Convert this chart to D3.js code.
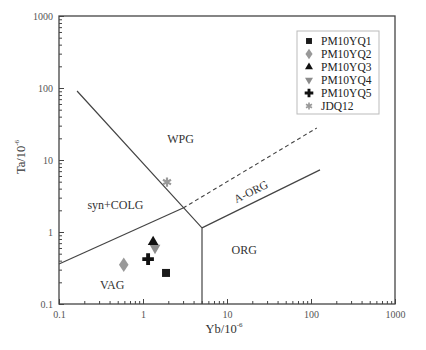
<!DOCTYPE html>
<html><head><meta charset="utf-8">
<script src="https://cdn.jsdelivr.net/npm/d3@7"></script>
<style>
html,body{margin:0;padding:0;background:#fff;}
svg{display:block;font-family:"Liberation Serif","DejaVu Serif",serif;}
</style></head>
<body>
<svg id="chart" width="426" height="350"></svg>
<script>
// ---- data ----
const sampleNames = ["PM10YQ1", "PM10YQ2", "PM10YQ3", "PM10YQ4", "PM10YQ5", "JDQ12"];
const ybValues = [1.88, 0.59, 1.32, 1.39, 1.15, 1.93];
const taValues = [0.27, 0.35, 0.73, 0.60, 0.42, 4.94];
const sampleSymbols = ["square", "diamond", "triangle", "triangleDown", "cross", "asterisk"];
const sampleColors = ["#1a1a1a", "#999999", "#111111", "#8c8c8c", "#111111", "#999999"];

const xTickLabels = [0.1, 1, 10, 100, 1000];
const yTickLabels = [0.1, 1, 10, 100, 1000];

// field boundaries (Yb, Ta)
const vagBoundary = [[0.1, 0.36], [3, 2.15]];
const dashedBoundary = [[3, 2.15], [117, 27.8]];
const wpgBoundary = [[0.164, 90.8], [5.04, 1.14], [5.04, 0.1]];
const orgBoundary = [[5.04, 1.14], [128, 7.3]];

const fieldLabels = ["WPG", "syn+COLG", "VAG", "ORG"];
const fieldLabelPos = [[2.8, 17], [0.47, 2.1], [0.43, 0.16], [16, 0.49]];
const aorgLabelYb = 22;

// ---- scales ----
const svg = d3.select("#chart");
const x = d3.scaleLog().domain([0.1, 1000]).range([59, 395]);
const y = d3.scaleLog().domain([0.1, 1000]).range([304, 16]);

const lineColor = "#444";

// minor ticks
const minorX = [], minorY = [];
for (let d = -1; d < 3; d++) for (let k = 2; k <= 9; k++) { minorX.push(k * Math.pow(10, d)); minorY.push(k * Math.pow(10, d)); }

const fmt = d => (d < 1 ? "0.1" : String(d));

const gx = svg.append("g").attr("transform", "translate(0,304)");
gx.call(d3.axisBottom(x).tickValues(minorX).tickSize(-3).tickFormat(""));
const gx2 = svg.append("g").attr("transform", "translate(0,304)");
gx2.call(d3.axisBottom(x).tickValues(xTickLabels).tickSize(-5).tickPadding(7).tickFormat(fmt));

const gy = svg.append("g").attr("transform", "translate(59,0)");
gy.call(d3.axisLeft(y).tickValues(minorY).tickSize(-3).tickFormat(""));
const gy2 = svg.append("g").attr("transform", "translate(59,0)");
gy2.call(d3.axisLeft(y).tickValues(yTickLabels).tickSize(-5).tickPadding(6).tickFormat(fmt));

svg.selectAll(".domain").remove();
svg.selectAll(".tick line").attr("stroke", lineColor).attr("stroke-width", 1);
svg.selectAll(".tick text").attr("font-family", "Liberation Serif, serif").attr("font-size", 10).attr("fill", "#555");

// frame
svg.append("rect").attr("x", 59).attr("y", 16).attr("width", 336).attr("height", 288)
  .attr("fill", "none").attr("stroke", lineColor).attr("stroke-width", 1.3);

// boundaries
const line = d3.line().x(d => x(d[0])).y(d => y(d[1]));
[vagBoundary, wpgBoundary, orgBoundary].forEach(b => {
  svg.append("path").attr("d", line(b)).attr("fill", "none").attr("stroke", lineColor).attr("stroke-width", 1.2);
});
svg.append("path").attr("d", line(dashedBoundary)).attr("fill", "none").attr("stroke", lineColor)
  .attr("stroke-width", 1.1).attr("stroke-dasharray", "4,3");

// field labels
fieldLabels.forEach((t, i) => {
  svg.append("text").attr("x", x(fieldLabelPos[i][0])).attr("y", y(fieldLabelPos[i][1]))
    .attr("text-anchor", "middle").attr("font-size", 12).attr("fill", "#333").text(t);
});
// A-ORG rotated along the ORG boundary
{
  const p0 = [x(orgBoundary[0][0]), y(orgBoundary[0][1])];
  const p1 = [x(orgBoundary[1][0]), y(orgBoundary[1][1])];
  const ang = Math.atan2(p1[1] - p0[1], p1[0] - p0[0]) * 180 / Math.PI;
  const cx = x(aorgLabelYb);
  const t = (cx - p0[0]) / (p1[0] - p0[0]);
  const cy = p0[1] + t * (p1[1] - p0[1]);
  svg.append("text").attr("transform", `translate(${cx},${cy}) rotate(${ang}) translate(0,-7)`)
    .attr("text-anchor", "middle").attr("font-size", 11.5).attr("fill", "#333").text("A-ORG");
}

// symbols
const symType = {
  square: d3.symbolSquare, diamond: d3.symbolDiamond, triangle: d3.symbolTriangle,
  triangleDown: d3.symbolTriangle, cross: d3.symbolCross, asterisk: d3.symbolAsterisk
};
function drawSymbol(g, i, cx, cy, scale) {
  const s = sampleSymbols[i];
  const sizes = { square: 64, diamond: 60, triangle: 50, triangleDown: 50, cross: 75, asterisk: 60 };
  const p = g.append("path").attr("d", d3.symbol().type(symType[s]).size(sizes[s] * scale)())
    .attr("transform", `translate(${cx},${cy})` + (s === "triangleDown" ? " rotate(180)" : "") + (s === "diamond" ? " scale(1.15,1)" : ""));
  if (s === "asterisk") p.attr("fill", "none").attr("stroke", sampleColors[i]).attr("stroke-width", 2.2 * Math.sqrt(scale));
  else p.attr("fill", sampleColors[i]);
}

// draw points (gray down-triangle behind black triangle)
const order = [5, 1, 3, 2, 4, 0];
order.forEach(i => drawSymbol(svg, i, x(ybValues[i]), y(taValues[i]), 1));

// legend
const lg = svg.append("g");
lg.append("rect").attr("x", 297).attr("y", 31).attr("width", 82).attr("height", 83)
  .attr("fill", "#fff").attr("stroke", "#bbb").attr("stroke-width", 1);
sampleNames.forEach((n, i) => {
  const yy = 41 + i * 13;
  drawSymbol(lg, i, 309, yy, 0.55);
  lg.append("text").attr("x", 321).attr("y", yy + 4).attr("font-size", 11.5).attr("fill", "#222").text(n);
});

// axis titles
const xt = svg.append("text").attr("x", 224).attr("y", 333).attr("text-anchor", "middle")
  .attr("font-size", 12.5).attr("fill", "#333");
xt.append("tspan").text("Yb/10");
xt.append("tspan").attr("font-size", 7).attr("dy", -6).text("-6");

const yt = svg.append("text").attr("transform", "translate(25,157) rotate(-90)").attr("text-anchor", "middle")
  .attr("font-size", 12.5).attr("fill", "#333");
yt.append("tspan").text("Ta/10");
yt.append("tspan").attr("font-size", 7).attr("dy", -6).text("-6");
</script>
</body></html>
